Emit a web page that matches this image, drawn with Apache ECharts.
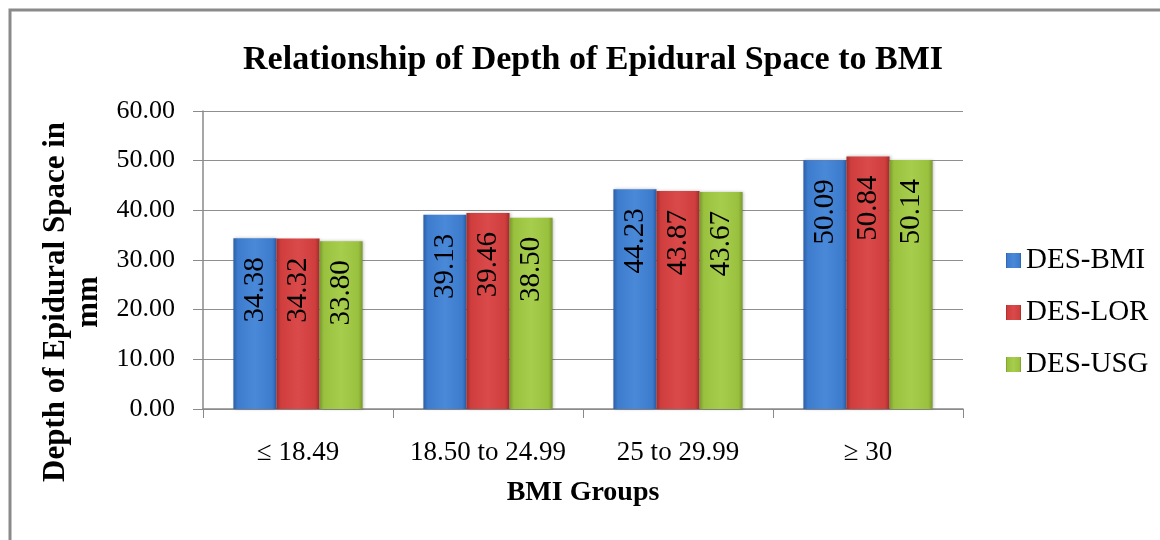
<!DOCTYPE html>
<html>
<head>
<meta charset="utf-8">
<script src="https://cdn.jsdelivr.net/npm/echarts@6/dist/echarts.min.js"></script>
<style>
  html, body { margin: 0; padding: 0; background: #fff; }
  #chart { width: 1160px; height: 540px; }
</style>
</head>
<body>
<div id="chart"></div>
<script>
const categories = ['\u2264 18.49', '18.50 to 24.99', '25 to 29.99', '\u2265 30'];
const desBmi = [34.38, 39.13, 44.23, 50.09];
const desLor = [34.32, 39.46, 43.87, 50.84];
const desUsg = [33.80, 38.50, 43.67, 50.14];
const yTicks = [0, 10, 20, 30, 40, 50, 60];

const serif = "'Liberation Serif', 'Times New Roman', serif";

function barFill(edge, mid, light) {
    return new echarts.graphic.LinearGradient(0, 0, 1, 0, [
        { offset: 0, color: edge },
        { offset: 0.1, color: mid },
        { offset: 0.5, color: light },
        { offset: 0.9, color: mid },
        { offset: 1, color: edge },
    ]);
}

const barLabel = {
    show: true,
    position: 'insideTop',
    rotate: 90,
    align: 'right',
    verticalAlign: 'middle',
    distance: 19,
    color: '#000',
    fontFamily: serif,
    fontSize: 29,
    formatter: (p) => p.value.toFixed(2),
};

function makeSeries(name, data, fill) {
    return {
        name: name,
        type: 'bar',
        data: data,
        barGap: '0%',
        barCategoryGap: '32%',
        itemStyle: {
            color: fill,
            shadowColor: 'rgba(0,0,0,0.25)',
            shadowBlur: 3,
            shadowOffsetX: 1,
        },
        label: barLabel,
    };
}

const chart = echarts.init(document.getElementById('chart'));
chart.setOption({
    animation: false,
    backgroundColor: '#fff',
    graphic: [
        {
            type: 'rect',
            shape: { x: 10, y: 10, width: 1300, height: 700 },
            style: { fill: 'none', stroke: '#8a8a8a', lineWidth: 3 },
            silent: true,
        },
    ],
    title: {
        text: 'Relationship of Depth of Epidural Space to BMI',
        left: 588,
        textAlign: 'center',
        top: 38,
        textStyle: {
            fontFamily: serif,
            fontSize: 34,
            fontWeight: 'bold',
            color: '#000',
        },
    },
    legend: {
        orient: 'vertical',
        left: 1001,
        top: 241,
        itemWidth: 15,
        itemHeight: 15,
        itemGap: 23,
        icon: 'rect',
        textStyle: {
            fontFamily: serif,
            fontSize: 29,
            lineHeight: 29,
            color: '#000',
        },
    },
    grid: { left: 203, right: 197, top: 111, bottom: 131 },
    xAxis: {
        type: 'category',
        data: categories,
        name: 'BMI Groups',
        nameLocation: 'middle',
        nameGap: 70,
        nameTextStyle: {
            fontFamily: serif,
            fontSize: 28,
            fontWeight: 'bold',
            color: '#000',
        },
        axisLine: { lineStyle: { color: '#8a8a8a', width: 1.5 } },
        axisTick: { show: true, length: 9, lineStyle: { color: '#8a8a8a' } },
        axisLabel: {
            interval: 0,
            fontFamily: serif,
            fontSize: 27,
            color: '#000',
            margin: 30,
        },
    },
    yAxis: {
        type: 'value',
        min: yTicks[0],
        max: yTicks[yTicks.length - 1],
        interval: 10,
        name: 'Depth of Epidural Space in\nmm',
        nameLocation: 'middle',
        nameGap: 85,
        nameTextStyle: {
            fontFamily: serif,
            fontSize: 31,
            fontWeight: 'bold',
            lineHeight: 33,
            color: '#000',
            align: 'center',
            padding: [0, 84, 0, 0],
        },
        axisLine: { show: true, lineStyle: { color: '#8a8a8a', width: 1.5 } },
        axisTick: { show: true, length: 10, lineStyle: { color: '#8a8a8a' } },
        splitLine: { lineStyle: { color: '#8f8f8f', width: 1.2 } },
        axisLabel: {
            fontFamily: serif,
            fontSize: 26,
            color: '#000',
            margin: 28,
            formatter: (v) => v.toFixed(2),
        },
    },
    series: [
        makeSeries('DES-BMI', desBmi, barFill('#2c5ea6', '#3d7bcd', '#4a88d8')),
        makeSeries('DES-LOR', desLor, barFill('#a02c2c', '#cf3d3d', '#db4a4a')),
        makeSeries('DES-USG', desUsg, barFill('#7a9830', '#99c13e', '#a7cd4c')),
    ],
});
</script>
</body>
</html>
